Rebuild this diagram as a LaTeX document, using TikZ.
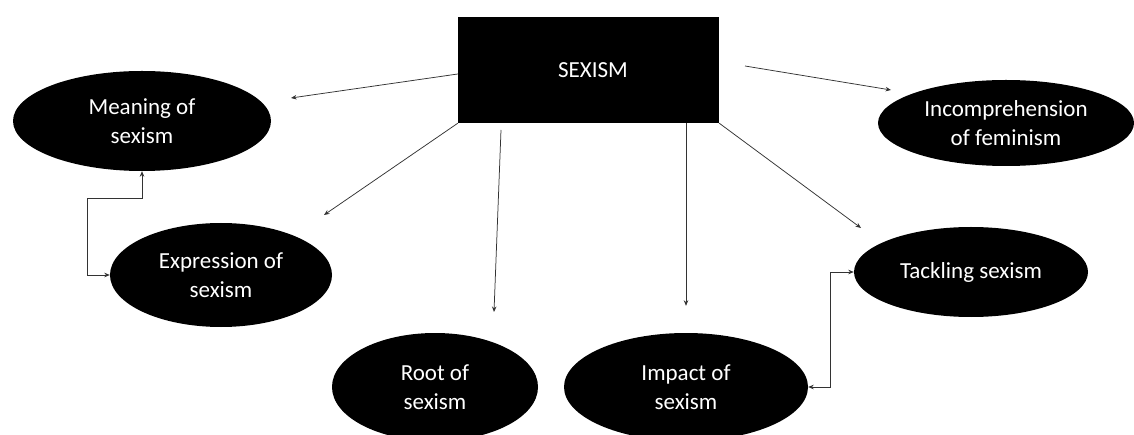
\documentclass[tikz,border=0pt]{standalone}
\usepackage{fontspec}
\setmainfont{Carlito}
\usetikzlibrary{shapes.geometric,arrows.meta,calc}
\tikzset{
  oval/.style={ellipse, fill=black, draw=none, inner sep=0pt, text=white, align=center,
    font=\fontsize{23}{28.5}\selectfont},
  box/.style={rectangle, fill=black, draw=none, inner sep=0pt, text=white,
    font=\fontsize{23}{28.5}\selectfont},
  arr/.style={draw=black!80, line width=0.75pt, -{Stealth[length=5.5pt,width=4.5pt]}},
  dbl/.style={draw=black!80, line width=0.75pt, {Stealth[length=5.5pt,width=4.5pt]}-{Stealth[length=5.5pt,width=4.5pt]}}
}
\begin{document}
\begin{tikzpicture}[x=1pt,y=-1pt]
\useasboundingbox (0,0) rectangle (1134,435);
\fill[white] (0,0) rectangle (1134,435);

\node[box, minimum width=261pt, minimum height=106pt] (S) at (588.5,70) {};
\node[text=white, inner sep=0pt, font=\fontsize{23}{28.5}\selectfont] (St) at (593,70) {SEXISM};

\node[oval, minimum width=258pt, minimum height=100pt] (M) at (142,121) {Meaning of\\sexism};
\node[oval, minimum width=222pt, minimum height=104pt] (E) at (221,275) {Expression of\\sexism};
\node[oval, minimum width=206pt, minimum height=108pt] (R) at (435,387) {Root of\\sexism};
\node[oval, minimum width=244pt, minimum height=108pt] (I) at (686,387) {Impact of\\sexism};
\node[oval, minimum width=234pt, minimum height=90pt] (T) at (971,272) {Tackling sexism};
\node[oval, minimum width=256pt, minimum height=86pt] (C) at (1006,123) {Incomprehension\\of feminism};

\coordinate (mTip) at (291,98);
\coordinate (eTip) at (324,215);
\coordinate (rStart) at (501,130);
\coordinate (rTip) at (494,312);
\coordinate (tTip) at (861,228);
\coordinate (cStart) at (745,66);
\coordinate (cTip) at (891,90);

\draw[arr] ([yshift=-4pt]S.west) -- (mTip);
\draw[arr] (S.south west) -- (eTip);
\draw[arr] (rStart) -- (rTip);
\draw[arr, shorten >=27pt] (S.south -| I.north) -- (I.north);
\draw[arr] (S.south east) -- (tTip);
\draw[arr] (cStart) -- (cTip);

\draw[dbl] (M.south) -- ++(0,27) -| ([xshift=-22pt]E.west) -- (E.west);
\draw[dbl] (I.east) -- ++(22,0) |- (T.west);
\end{tikzpicture}
\end{document}
